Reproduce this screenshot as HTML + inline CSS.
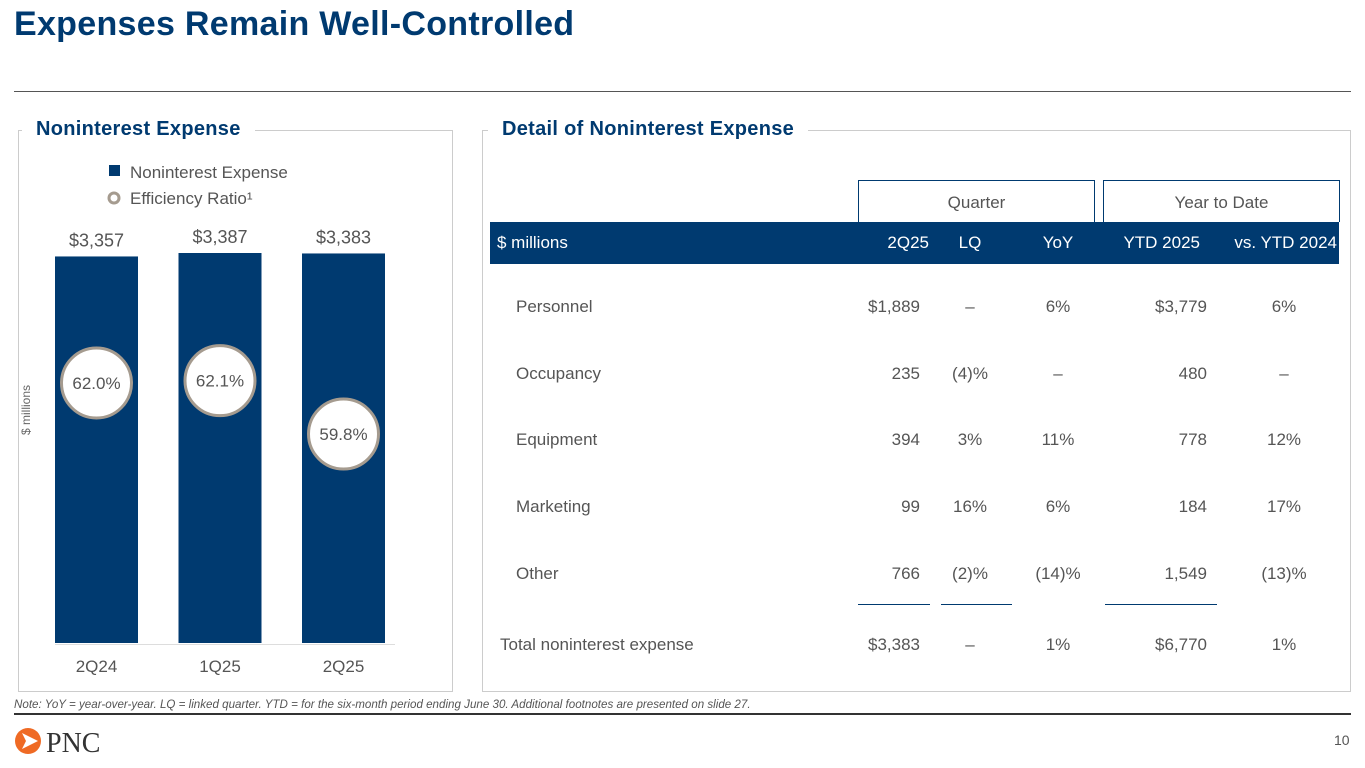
<!DOCTYPE html>
<html><head><meta charset="utf-8"><style>
body{margin:0;width:1365px;height:768px;background:#fff;font-family:"Liberation Sans",sans-serif;position:relative;overflow:hidden;color:#444}
.a{position:absolute}
.title{left:14px;top:5px;font-size:34px;font-weight:bold;color:#003a70;letter-spacing:0.3px}
.ph{font-size:20px;font-weight:bold;color:#003a70;background:#fff;padding:0 14px;top:118px;letter-spacing:0.3px}
.cell{position:absolute;font-size:17px;color:#555;white-space:nowrap}
.r{text-align:right}.c{text-align:center}
</style></head><body>
<div class="a title">Expenses Remain Well-Controlled</div>
<div class="a" style="left:14px;top:91px;width:1337px;height:1px;background:#555"></div>

<div class="a" style="left:18px;top:130px;width:433px;height:560px;border:1px solid #ccc"></div>
<div class="a ph" style="left:22px">Noninterest Expense</div>
<div class="a" style="left:482px;top:130px;width:867px;height:560px;border:1px solid #ccc"></div>
<div class="a ph" style="left:488px">Detail of Noninterest Expense</div>

<svg class="a" style="left:0;top:0" width="470" height="700" id="chart"></svg>

<div class="a" style="left:858px;top:180px;width:235px;height:41px;border:1px solid #003a70;border-bottom:none;font-size:17px;color:#555;text-align:center;line-height:44px">Quarter</div>
<div class="a" style="left:1103px;top:180px;width:235px;height:41px;border:1px solid #003a70;border-bottom:none;font-size:17px;color:#555;text-align:center;line-height:44px">Year to Date</div>
<div class="a" style="left:490px;top:222px;width:849px;height:42px;background:#003a70"></div>
<div id="tbl"></div>

<div class="a" style="left:14px;top:698px;font-size:11.6px;font-style:italic;color:#555">Note: YoY = year-over-year. LQ = linked quarter. YTD = for the six-month period ending June 30. Additional footnotes are presented on slide 27.</div>
<div class="a" style="left:14px;top:713px;width:1337px;height:2px;background:#333"></div>
<svg class="a" style="left:14px;top:726px" width="110" height="32">
<circle cx="14" cy="15" r="13" fill="#ef6a24"/><path d="M8 7 L24 15 L8 23 L12 15 Z" fill="#fff"/>
<text x="32" y="26" font-family="Liberation Serif,serif" font-size="28" fill="#333">PNC</text></svg>
<div class="a" style="left:1334px;top:732px;font-size:14px;color:#555">10</div>

<script>
const categories=["2Q24","1Q25","2Q25"];
const expense=[3357,3387,3383];
const expenseLabels=["$3,357","$3,387","$3,383"];
const efficiency=[62.0,62.1,59.8];
const effLabels=["62.0%","62.1%","59.8%"];
const NS="http://www.w3.org/2000/svg";
const svg=document.getElementById('chart');
function el(t,a){const e=document.createElementNS(NS,t);for(const k in a)e.setAttribute(k,a[k]);svg.appendChild(e);return e;}
const base=643,scaleY=v=>base-v*(390/3387);
const xC=i=>96.5+i*123.5;
const effY=v=>383-(v-62)*23.2;
let t;
t=el('rect',{x:55,y:644,width:340,height:1,fill:'#ddd'});
t=el('text',{x:30,y:410,'font-size':12,fill:'#666','text-anchor':'middle',transform:'rotate(-90 30 410)'});t.textContent='$ millions';

t=el('rect',{x:109,y:165,width:11,height:11,fill:'#003a70'});
t=el('text',{x:130,y:178,'font-size':17,fill:'#555'});t.textContent='Noninterest Expense';
t=el('circle',{cx:114,cy:198,r:5,fill:'none',stroke:'#a59b8f','stroke-width':3});
t=el('text',{x:130,y:204,'font-size':17,fill:'#555'});t.textContent='Efficiency Ratio¹';
categories.forEach((c,i)=>{
 const y=scaleY(expense[i]);
 let b=el('rect',{x:xC(i)-41.5,y:y,width:83,height:base-y,fill:'#003a70'});
 
 let l=el('text',{x:xC(i),y:y-10,'font-size':18,fill:'#555','text-anchor':'middle'});l.textContent=expenseLabels[i];
 
 let cx=el('text',{x:xC(i),y:672,'font-size':17,fill:'#555','text-anchor':'middle'});cx.textContent=c;
 
 const ey=effY(efficiency[i]);
 let ci=el('circle',{cx:xC(i),cy:ey,r:35,fill:'#fff',stroke:'#a59b8f','stroke-width':3});
 
 let et=el('text',{x:xC(i),y:ey+6,'font-size':17,fill:'#555','text-anchor':'middle'});et.textContent=effLabels[i];
 
});

const rows=[["Personnel","$1,889","–","6%","$3,779","6%"],["Occupancy","235","(4)%","–","480","–"],["Equipment","394","3%","11%","778","12%"],["Marketing","99","16%","6%","184","17%"],["Other","766","(2)%","(14)%","1,549","(13)%"]];
const tb=document.getElementById('tbl');
function cell(txt,x,y,cls,name,color){const d=document.createElement('div');d.className='cell '+cls;d.textContent=txt;
 if(cls==='r'){d.style.right=(1365-x)+'px';}else if(cls==='c'){d.style.left=(x-60)+'px';d.style.width='120px';}else d.style.left=x+'px';
 d.style.top=y+'px';if(color)d.style.color=color;
 
 
 tb.appendChild(d);}
const hdr=["$ millions","2Q25","LQ","YoY","YTD 2025","vs. YTD 2024"];
const hx=[[497,'l'],[929,'r'],[970,'c'],[1058,'c'],[1200,'r'],[1337,'r']];
hdr.forEach((h,i)=>cell(h,hx[i][0],233,hx[i][1],'header-'+i,'#fff'));
const cx2=[[516,'l'],[920,'r'],[970,'c'],[1058,'c'],[1207,'r'],[1284,'c']];
rows.forEach((r,j)=>r.forEach((v,i)=>cell(v,cx2[i][0],297+j*66.7,cx2[i][1],'row-'+j+'-col-'+i)));
const tot=["Total noninterest expense","$3,383","–","1%","$6,770","1%"];
const tx=[[500,'l'],[920,'r'],[970,'c'],[1058,'c'],[1207,'r'],[1284,'c']];
tot.forEach((v,i)=>cell(v,tx[i][0],635,tx[i][1],'total-col-'+i));
[[858,72],[941,71],[1105,112]].forEach((u,i)=>{const d=document.createElement('div');d.className='a';
 d.style.cssText='left:'+u[0]+'px;top:604px;width:'+u[1]+'px;height:1px;background:#003a70';
 
 
 tb.appendChild(d);});
</script>
</body></html>
